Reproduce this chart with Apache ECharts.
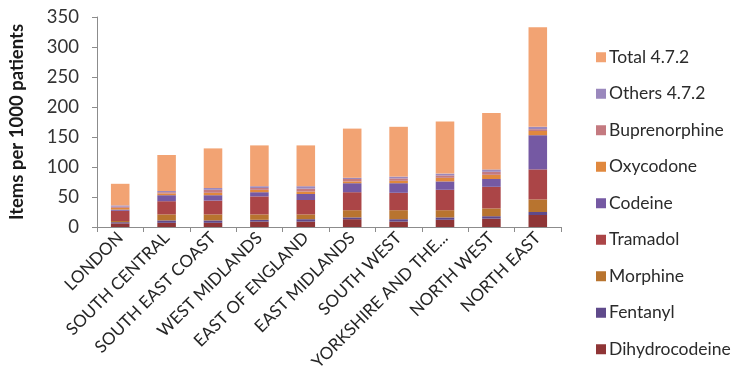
<!DOCTYPE html>
<html>
<head>
<meta charset="utf-8">
<script src="https://cdn.jsdelivr.net/npm/echarts@6/dist/echarts.min.js"></script>
<style>
  html, body { margin: 0; padding: 0; background: #fff; }
  #chart { width: 754px; height: 380px; }
</style>
</head>
<body>
<div id="chart"></div>
<script>
// Prescribing regions (x axis)
const regions = [
  'LONDON', 'SOUTH CENTRAL', 'SOUTH EAST COAST', 'WEST MIDLANDS', 'EAST OF ENGLAND',
  'EAST MIDLANDS', 'SOUTH WEST', 'YORKSHIRE AND THE HUMBER', 'NORTH WEST', 'NORTH EAST'
];

// Items per 1000 patients, stacked bottom to top
const dihydrocodeine = [6, 7, 7, 9, 9, 13, 9, 12, 14, 20];
const fentanyl       = [2, 4, 4, 3, 4, 3, 4, 4, 4, 5];
const morphine       = [2, 10, 10, 9, 8, 12, 15, 12, 13, 21];
const tramadol       = [17, 22, 23, 30, 24, 30, 29, 34, 36, 50];
const codeine        = [2, 10, 9, 7, 10, 15, 16, 14, 13, 57];
const oxycodone      = [3, 3, 4, 4, 4, 3, 4, 6, 7, 7];
const buprenorphine  = [2, 2, 5, 3, 5, 4, 4, 4, 5, 3];
const others472      = [2, 2, 3, 3, 4, 2, 3, 3, 4, 4];
const total472       = [36, 60, 66, 68, 68, 82, 83, 87, 94, 166];

// Value axis ticks
const yTicks = [0, 50, 100, 150, 200, 250, 300, 350];

const seriesDefs = [
  { name: 'Dihydrocodeine', data: dihydrocodeine, color: '#8f3536' },
  { name: 'Fentanyl',       data: fentanyl,       color: '#5f4a8b' },
  { name: 'Morphine',       data: morphine,       color: '#b8742f' },
  { name: 'Tramadol',       data: tramadol,       color: '#ab4547' },
  { name: 'Codeine',        data: codeine,        color: '#7559a3' },
  { name: 'Oxycodone',      data: oxycodone,      color: '#e0883e' },
  { name: 'Buprenorphine',  data: buprenorphine,  color: '#c47a80' },
  { name: 'Others 4.7.2',   data: others472,      color: '#9a88bd' },
  { name: 'Total 4.7.2',    data: total472,       color: '#f2a373' }
];

const chart = echarts.init(document.getElementById('chart'), null, { renderer: 'canvas' });

const fontFamily = 'Lato, "Open Sans", sans-serif';

chart.setOption({
  animation: false,
  backgroundColor: '#ffffff',
  textStyle: { fontFamily: fontFamily },
  grid: { left: 96, right: 193, top: 17, bottom: 153, containLabel: false },
  legend: {
    orient: 'vertical',
    left: 591,
    top: 42,
    itemWidth: 10,
    itemHeight: 10,
    itemGap: 16,
    icon: 'rect',
    data: seriesDefs.map(s => s.name).reverse(),
    textStyle: { fontFamily: fontFamily, fontSize: 17.5, color: '#2b2b2b', lineHeight: 20.5, padding: [0, 0, 0, -2] }
  },
  xAxis: {
    type: 'category',
    data: regions,
    axisLine: { lineStyle: { color: '#8c8c8c', width: 1 } },
    axisTick: { show: true, alignWithLabel: false, length: 5, lineStyle: { color: '#8c8c8c' } },
    axisLabel: {
      interval: 0,
      rotate: 45,
      margin: 8,
      fontSize: 17,
      color: '#262626',
      fontFamily: fontFamily,
      formatter: v => v.length > 20 ? v.slice(0, 17) + '...' : v
    }
  },
  yAxis: {
    type: 'value',
    min: yTicks[0],
    max: yTicks[yTicks.length - 1],
    interval: yTicks[1] - yTicks[0],
    name: 'Items per 1000 patients',
    nameLocation: 'middle',
    nameRotate: 90,
    nameGap: 70,
    nameTextStyle: { fontFamily: fontFamily, fontSize: 18.5, fontWeight: 'bold', color: '#1a1a1a' },
    axisLine: { show: true, lineStyle: { color: '#8c8c8c', width: 1 } },
    axisTick: { show: true, length: 5, lineStyle: { color: '#8c8c8c' } },
    splitLine: { show: false },
    axisLabel: { fontSize: 18.5, color: '#333', margin: 18, fontFamily: fontFamily }
  },
  series: seriesDefs.map(s => ({
    name: s.name,
    type: 'bar',
    stack: 'items',
    data: s.data,
    barCategoryGap: '60%',
    itemStyle: { color: s.color },
    emphasis: { disabled: true }
  }))
});
</script>
</body>
</html>
